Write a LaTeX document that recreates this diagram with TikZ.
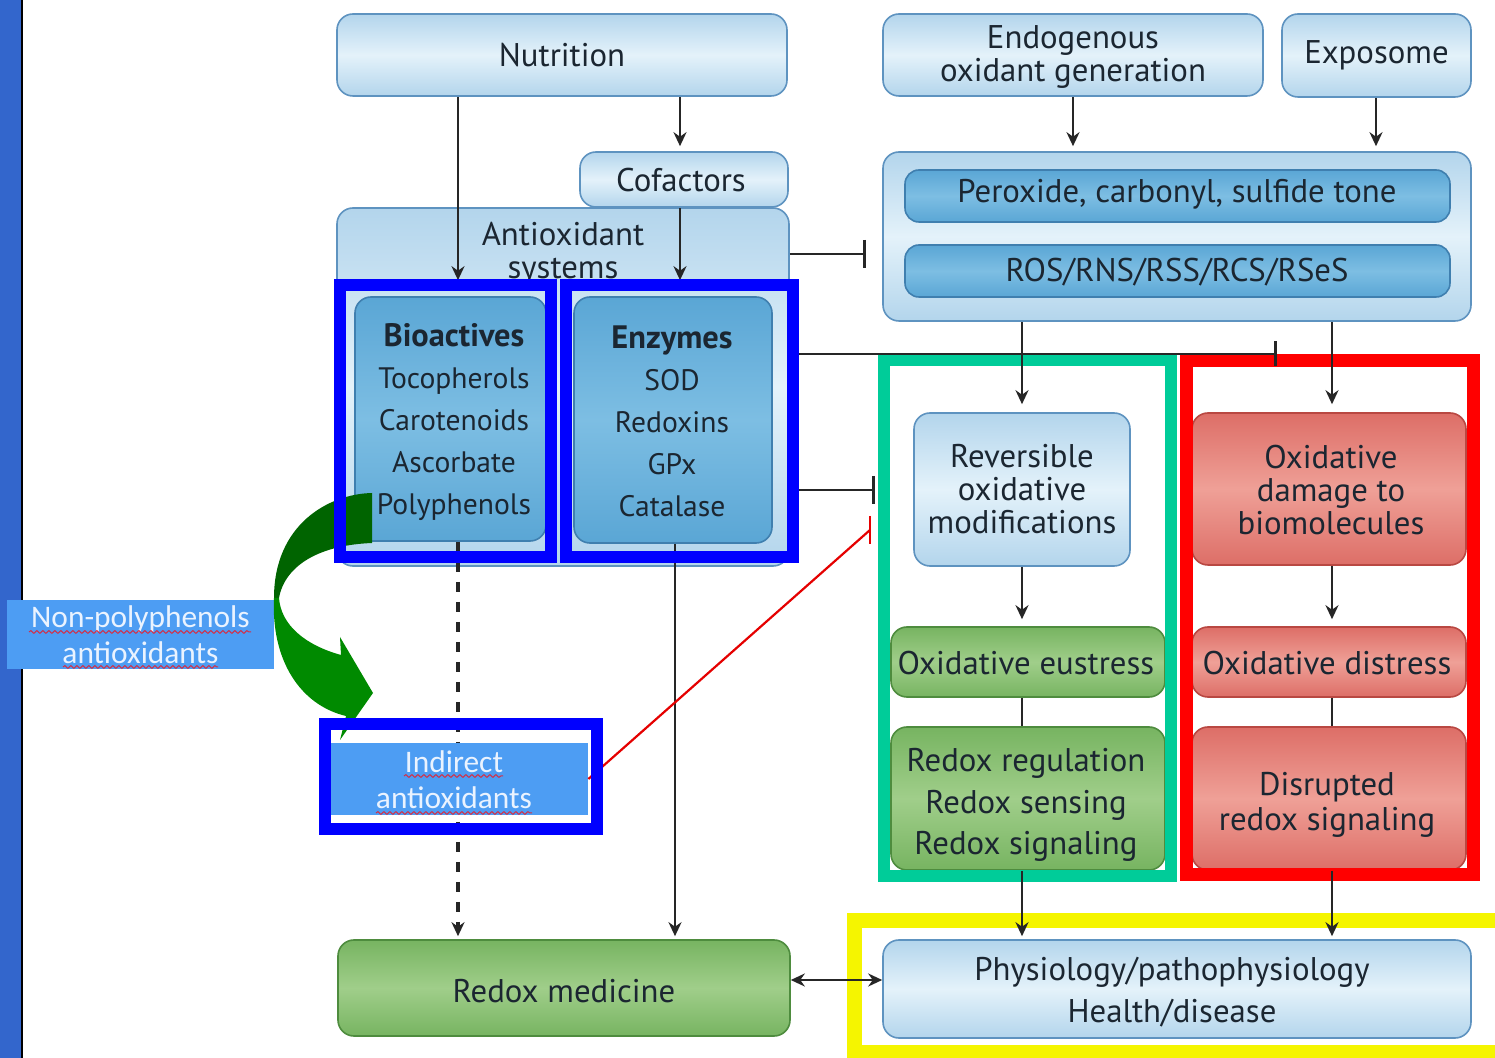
\documentclass[tikz,border=0pt]{standalone}
\usepackage{fontspec}
\setmainfont{PT Sans}
\newfontfamily\calfont{Carlito}
\usetikzlibrary{arrows.meta,decorations.pathmorphing,calc}

\definecolor{txt}{HTML}{1B2631}
\definecolor{lbE}{HTML}{B3D5EC}
\definecolor{lbC}{HTML}{E4F2FA}
\definecolor{lbD}{HTML}{5E93C0}
\definecolor{mbE}{HTML}{5AA6D5}
\definecolor{mbC}{HTML}{7DBEE3}
\definecolor{mbD}{HTML}{3F7FAF}
\definecolor{gE}{HTML}{77B461}
\definecolor{gC}{HTML}{A0CE8A}
\definecolor{gD}{HTML}{4E8C3E}
\definecolor{rE}{HTML}{DD6E67}
\definecolor{rC}{HTML}{EFA097}
\definecolor{rD}{HTML}{B94842}
\definecolor{ib}{HTML}{4D9DF3}
\definecolor{ibtxt}{HTML}{EAF3FF}
\definecolor{barblue}{HTML}{3366CC}
\definecolor{annblue}{HTML}{0000FF}
\definecolor{anngreen}{HTML}{00CC99}
\definecolor{annyellow}{HTML}{F5F500}
\definecolor{annred}{HTML}{FF0000}
\definecolor{darkgrn}{HTML}{006400}
\definecolor{midgrn}{HTML}{008A00}
\definecolor{lnk}{HTML}{262626}
\definecolor{wavered}{HTML}{D0304A}

\newcommand\fM{\fontsize{16.4}{16.5}\selectfont}
\newcommand\fS{\fontsize{14.8}{21}\selectfont}

\tikzset{
  basebox/.style={rounded corners=8pt, line width=0.8pt, text=txt, align=center, inner sep=0pt, font=\fM},
  lbox/.style={basebox, draw=lbD, top color=lbE, bottom color=lbE, middle color=lbC},
  mbox/.style={basebox, draw=mbD, top color=mbE, bottom color=mbE, middle color=mbC},
  gbox/.style={basebox, draw=gD, top color=gE, bottom color=gE, middle color=gC},
  rbox/.style={basebox, draw=rD, top color=rE, bottom color=rE, middle color=rC},
  txtnode/.style={text=txt, align=center, inner sep=0pt, font=\fM},
  ibox/.style={fill=ib, text=ibtxt, align=center, inner sep=0pt, font=\calfont\fontsize{15.7}{18}\selectfont},
  arr/.style={draw=lnk, line width=1.3pt, -{Stealth[length=7pt,width=6.5pt]}},
  plain/.style={draw=lnk, line width=1.3pt},
  dasharr/.style={arr, line width=1.6pt, dash pattern=on 5pt off 5pt},
  tbar/.style={draw=lnk, line width=1.3pt, -{Bar[width=14pt,line width=1.3pt]}},
  redln/.style={draw=red!90!black, line width=1.1pt},
  wavy/.style={draw=wavered, line width=0.5pt, decorate, decoration={snake, amplitude=0.7pt, segment length=3pt}},
}

\begin{document}
\begin{tikzpicture}[x=0.5pt,y=-0.5pt]
\useasboundingbox (0,0) rectangle (1495,1058);
\clip (0,0) rectangle (1495,1058);
\fill[white] (0,0) rectangle (1495,1058);

% left bar
\fill[barblue] (0,0) rectangle (21,1058);
\draw[black, line width=1.2pt] (22,0) -- (22,1058);

% left column boxes
\node[lbox, minimum width=225pt, minimum height=41pt] (nutr) at (562,55) {Nutrition};
\node[lbox, minimum width=226pt, minimum height=179pt] (anti) at (563,387) {};
\node[lbox, minimum width=104pt, minimum height=27.5pt] (cof) at (684,179.5) {};
\node[txtnode] (coftxt) at (681,180) {Cofactors};
\node[txtnode] (antlbl) at (563,254) {Antioxidant\\systems};
\node[mbox, minimum width=95.5pt, minimum height=122pt] (bio) at (450.5,419) {};
\node[txtnode, font=\fS] (biotxt) at (454,422)
  {{\fontsize{16.2}{21}\selectfont\bfseries Bioactives}\\Tocopherols\\Carotenoids\\Ascorbate\\Polyphenols};
\node[mbox, minimum width=99pt, minimum height=123pt] (enz) at (673,420) {};
\node[txtnode, font=\fS] (enztxt) at (672,421)
  {{\fontsize{16.2}{21}\selectfont\bfseries Enzymes}\\SOD\\Redoxins\\GPx\\Catalase};
\node[gbox, minimum width=226pt, minimum height=48pt] (med) at (564,988) {};
\node[txtnode] (medtxt) at (564,991) {Redox medicine};

% right column boxes
\node[lbox, minimum width=190pt, minimum height=41pt] (endo) at (1073,55) {};
\node[txtnode] (endotxt) at (1073,57) {Endogenous\\oxidant generation};
\node[lbox, minimum width=94.5pt, minimum height=41.5pt] (expo) at (1376.5,55.5) {Exposome};
\node[lbox, minimum width=294pt, minimum height=84.5pt] (big) at (1177,236.5) {};
\node[mbox, minimum width=272.5pt, minimum height=26pt, rounded corners=7pt] (perox) at (1177.5,196) {};
\node[txtnode] (peroxtxt) at (1177,194) {Peroxide, carbonyl, sulfide tone};
\node[mbox, minimum width=272.5pt, minimum height=26pt, rounded corners=7pt] (ros) at (1177.5,271) {};
\node[txtnode] (rostxt) at (1177,272) {ROS/RNS/RSS/RCS/RSeS};
\node[lbox, minimum width=108pt, minimum height=76.5pt] (rev) at (1022,489.5) {Reversible\\oxidative\\modifications};
\node[gbox, minimum width=137pt, minimum height=35pt] (eus) at (1028,662) {};
\node[txtnode] (eustxt) at (1026,663) {Oxidative eustress};
\node[gbox, minimum width=137pt, minimum height=71.5pt] (reg) at (1028,798.5) {};
\node[txtnode, font=\fontsize{16.4}{20.75}\selectfont] (regtxt) at (1026,805) {Redox regulation\\Redox sensing\\Redox signaling};
\node[rbox, minimum width=137pt, minimum height=76pt] (dam) at (1329,489) {};
\node[txtnode] (damtxt) at (1331,490) {Oxidative\\damage to\\biomolecules};
\node[rbox, minimum width=137pt, minimum height=35pt] (dis) at (1329,662) {};
\node[txtnode] (distxt) at (1327,663) {Oxidative distress};
\node[rbox, minimum width=137pt, minimum height=71.5pt] (disr) at (1329,798.5) {};
\node[txtnode, font=\fontsize{16.4}{17.5}\selectfont] (disrtxt) at (1327,805) {Disrupted\\redox signaling};
\node[lbox, minimum width=294pt, minimum height=49pt] (phys) at (1177,989) {};
\node[txtnode, font=\fontsize{16.4}{21}\selectfont] (phystxt) at (1172,992) {Physiology/pathophysiology\\Health/disease};

% left labels
\node[ibox, minimum width=133.5pt, minimum height=34.5pt] (nonp) at (140.5,634.5) {Non-polyphenols\\antioxidants};

% annotation frames (green, red, yellow)
\draw[line width=6pt, anngreen] (884,360) rectangle (1171,876);
\draw[line width=6.5pt, annred] (1186,360.5) rectangle (1473.5,874);
\draw[line width=7.5pt, annyellow] (854,920) rectangle (1510,1052);

% column coordinates
\coordinate (cA) at (458,0);
\coordinate (cB) at (680,0);
\coordinate (cC) at (675,0);
\coordinate (cE) at (1073,0);
\coordinate (cX) at (1376,0);
\coordinate (cL) at (1022,0);
\coordinate (cR) at (1332,0);
\coordinate (tA) at (866,254);
\coordinate (tB) at (875,490);
\coordinate (tC) at (1277,354);
\coordinate (tD) at (870,530);
\coordinate (yM) at (0,980);

% connectors
\draw[arr, shorten >=8pt] (nutr.south -| cA) -- (bio.north -| cA);
\draw[arr, shorten >=2.5pt] (nutr.south -| cB) -- (cof.north -| cB);
\draw[arr, shorten >=8pt] (cof.south -| cB) -- (enz.north -| cB);
\draw[arr, shorten >=2.5pt] (endo.south -| cE) -- (big.north -| cE);
\draw[arr, shorten >=2.5pt] (expo.south -| cX) -- (big.north -| cX);
\draw[arr, shorten >=4pt] (big.south -| cL) -- (rev.north -| cL);
\draw[arr, shorten >=4pt] (big.south -| cR) -- (dam.north -| cR);
\draw[arr, shorten >=3.5pt] (rev.south -| cL) -- (eus.north -| cL);
\draw[plain] (eus.south -| cL) -- (reg.north -| cL);
\draw[arr, shorten >=1.5pt] (reg.south -| cL) -- (phys.north -| cL);
\draw[arr, shorten >=3.5pt] (dam.south -| cR) -- (dis.north -| cR);
\draw[plain] (dis.south -| cR) -- (disr.north -| cR);
\draw[arr, shorten >=1.5pt] (disr.south -| cR) -- (phys.north -| cR);
\draw[dasharr, shorten >=1.5pt] (bio.south -| cA) -- (med.north -| cA);
\draw[arr, shorten >=1.5pt] (enz.south -| cC) -- (med.north -| cC);
\draw[tbar] (anti.east |- tA) -- (tA);
\draw[tbar] (anti.east |- tB) -- (tB);
\draw[tbar, -{Bar[width=12.5pt,line width=1.3pt]}] (anti.east |- tC) -- (tC);
\draw[arr, {Stealth[length=7pt,width=6.5pt]}-{Stealth[length=7pt,width=6.5pt]}] (med.east |- yM) -- (phys.west |- yM);

% indirect antioxidants box
\node[ibox, minimum width=128.5pt, minimum height=36pt] (ind) at (459.5,779) {};
\node[ibox, fill=none] (indtxt) at (454,780) {Indirect\\antioxidants};

% red inhibition line
\draw[redln] (ind.east) -- (tD);
\draw[redln, line width=1.3pt] ([yshift=7pt]tD) -- ([yshift=-7pt]tD);

% spell-check underlines
\draw[wavy] (29,632) -- (251,632);
\draw[wavy] (63,667) -- (218,667);
\draw[wavy] (404,776) -- (503,776);
\draw[wavy] (376,813) -- (532,813);

% green curved arrow
\fill[darkgrn] (372,493) .. controls (328,494) and (274,525) .. (274,598)
  -- (279,598) .. controls (285,565) and (320,545) .. (372,543) -- cycle;
\fill[midgrn] (274,598) .. controls (271,660) and (300,705) .. (346,716)
  -- (340,740) -- (373,693) -- (340,637) -- (341,655)
  .. controls (305,645) and (281,625) .. (279,598) -- cycle;

% blue annotation frames
\draw[line width=6pt, annblue] (339.5,285) rectangle (551,557.5);
\draw[line width=6pt, annblue] (566,285) rectangle (793,557.5);
\draw[line width=6pt, annblue] (324.5,724) rectangle (596.5,829);
\end{tikzpicture}
\end{document}
